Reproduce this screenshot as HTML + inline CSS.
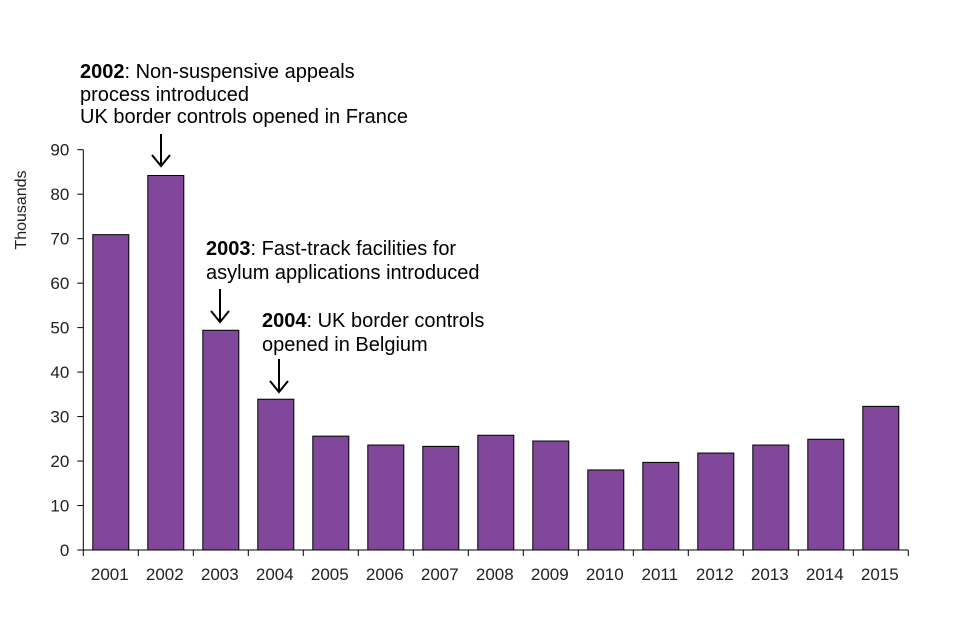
<!DOCTYPE html>
<html><head><meta charset="utf-8"><style>
body{margin:0;background:#fff;}
svg{display:block;font-family:"Liberation Sans",Arial,sans-serif;}
</style></head><body>
<svg id="chart" width="960" height="640">
<g id="plot"></g>
<text x="26" y="210" font-size="16" fill="#222" transform="rotate(-90 26 210)" text-anchor="middle">Thousands</text>
<g font-size="20" fill="#000">
<text x="80" y="78"><tspan font-weight="bold">2002</tspan>: Non-suspensive appeals</text>
<text x="80" y="101">process introduced</text>
<text x="80" y="123">UK border controls opened in France</text>
<path d="M161 134 V166 M152 155 L161 166 L170 155" stroke="#000" stroke-width="2" fill="none"/>
</g>
<g font-size="20" fill="#000">
<text x="206" y="255"><tspan font-weight="bold">2003</tspan>: Fast-track facilities for</text>
<text x="206" y="279">asylum applications introduced</text>
<path d="M220 289 V322 M211 311 L220 322 L229 311" stroke="#000" stroke-width="2" fill="none"/>
</g>
<g font-size="20" fill="#000">
<text x="262" y="327"><tspan font-weight="bold">2004</tspan>: UK border controls</text>
<text x="262" y="351">opened in Belgium</text>
<path d="M279 359 V392 M270 381 L279 392 L288 381" stroke="#000" stroke-width="2" fill="none"/>
</g>
</svg>
<script>
const categories=["2001","2002","2003","2004","2005","2006","2007","2008","2009","2010","2011","2012","2013","2014","2015"];
const values=[70.9,84.2,49.4,33.9,25.6,23.6,23.3,25.8,24.5,18.0,19.7,21.8,23.6,24.9,32.3];
const yTicks=[0,10,20,30,40,50,60,70,80,90];
const NS="http://www.w3.org/2000/svg";
const g=document.getElementById('plot');
const x0=83.3,step=55,y0=550,yTop=149.7,yMax=90;
const y=v=>y0-(v/yMax)*(y0-yTop);
const xc=i=>x0+step*(i+0.5);
function mk(t,a){const e=document.createElementNS(NS,t);for(const k in a)e.setAttribute(k,a[k]);g.appendChild(e);return e;}
values.forEach((v,i)=>{
 const r=mk('rect',{x:xc(i)-18,y:y(v),width:36,height:y0-y(v),fill:'#80479a',stroke:'#000','stroke-width':1});
 
 
 const t=mk('text',{x:xc(i)-1,y:580,'font-size':17,fill:'#222','text-anchor':'middle'});
 t.textContent=categories[i];
 
 
});
const ax=mk('path',{d:`M${x0} ${yTop} V${y0} H${x0+step*categories.length}`,stroke:'#000','stroke-width':1,fill:'none'});


yTicks.forEach(v=>{
 mk('line',{x1:x0-6,x2:x0,y1:y(v),y2:y(v),stroke:'#000'});
 const t=mk('text',{x:x0-14,y:y(v)+6,'font-size':17,fill:'#222','text-anchor':'end'});
 t.textContent=v;
 
 
});
for(let i=0;i<=categories.length;i++)mk('line',{x1:x0+step*i,x2:x0+step*i,y1:y0,y2:y0+6,stroke:'#000'});
</script>
</body></html>
